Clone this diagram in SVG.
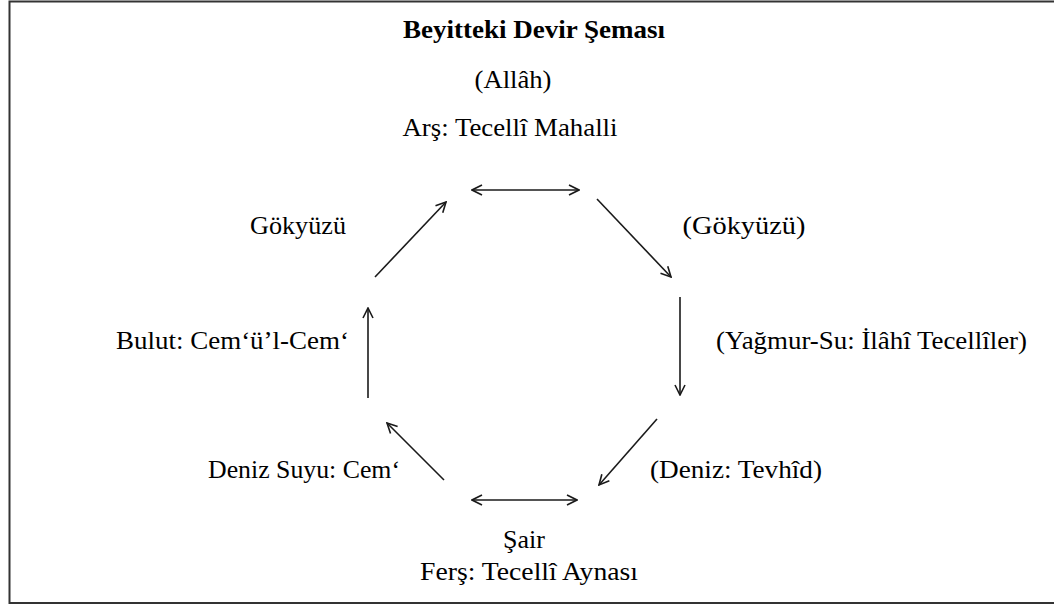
<svg xmlns="http://www.w3.org/2000/svg" width="1054" height="606" viewBox="0 0 1054 606">
<defs>
<style>
text{font-family:"Liberation Serif","Times New Roman",serif;font-size:26px;fill:#000}
.t{font-weight:bold}
.c{stroke:#1a1a1a;stroke-width:1.6;fill:none}
</style>
<marker id="ah" viewBox="0 0 12 12" refX="11" refY="6" markerWidth="12" markerHeight="12" markerUnits="userSpaceOnUse" orient="auto-start-reverse">
<polyline points="1,1 11,6 1,11" fill="none" stroke="#1a1a1a" stroke-width="1.6"/>
</marker>
</defs>
<rect x="9.5" y="1.5" width="1050" height="601.5" fill="#fff" stroke="#333" stroke-width="2"/>
<g id="title"><text class="t" x="534" y="38" text-anchor="middle" textLength="262" lengthAdjust="spacingAndGlyphs">Beyitteki Devir Şeması</text></g>
<g id="allah"><text x="513" y="88" text-anchor="middle" textLength="77" lengthAdjust="spacingAndGlyphs">(Allâh)</text></g>
<g id="ars"><text x="510" y="136" text-anchor="middle" textLength="215" lengthAdjust="spacingAndGlyphs">Arş: Tecellî Mahalli</text></g>
<g id="gokyuzu"><text x="298" y="234" text-anchor="middle" textLength="96" lengthAdjust="spacingAndGlyphs">Gökyüzü</text></g>
<g id="gokyuzu2"><text x="744" y="234" text-anchor="middle" textLength="123" lengthAdjust="spacingAndGlyphs">(Gökyüzü)</text></g>
<g id="yagmur"><text x="716" y="349" textLength="311" lengthAdjust="spacingAndGlyphs">(Yağmur-Su: İlâhî Tecellîler)</text></g>
<g id="bulut"><text x="116" y="349" textLength="233" lengthAdjust="spacingAndGlyphs">Bulut: Cem‘ü’l-Cem‘</text></g>
<g id="denizsuyu"><text x="208" y="478" textLength="192" lengthAdjust="spacingAndGlyphs">Deniz Suyu: Cem‘</text></g>
<g id="deniz"><text x="650" y="478" textLength="172" lengthAdjust="spacingAndGlyphs">(Deniz: Tevhîd)</text></g>
<g id="sair"><text x="524" y="548" text-anchor="middle">Şair</text></g>
<g id="fers"><text x="420" y="580" textLength="218" lengthAdjust="spacingAndGlyphs">Ferş: Tecellî Aynası</text></g>
<g id="connectors">
<line class="c" x1="472" y1="190" x2="579" y2="190" marker-start="url(#ah)" marker-end="url(#ah)"/>
<line class="c" x1="375" y1="277" x2="446" y2="202" marker-end="url(#ah)"/>
<line class="c" x1="597" y1="199" x2="671" y2="277" marker-end="url(#ah)"/>
<line class="c" x1="680" y1="297" x2="680" y2="395" marker-end="url(#ah)"/>
<line class="c" x1="657" y1="419" x2="599" y2="485" marker-end="url(#ah)"/>
<line class="c" x1="472" y1="500" x2="577" y2="500" marker-start="url(#ah)" marker-end="url(#ah)"/>
<line class="c" x1="444" y1="480" x2="387" y2="423" marker-end="url(#ah)"/>
<line class="c" x1="368" y1="398" x2="368" y2="308" marker-end="url(#ah)"/>
</g>
</svg>
